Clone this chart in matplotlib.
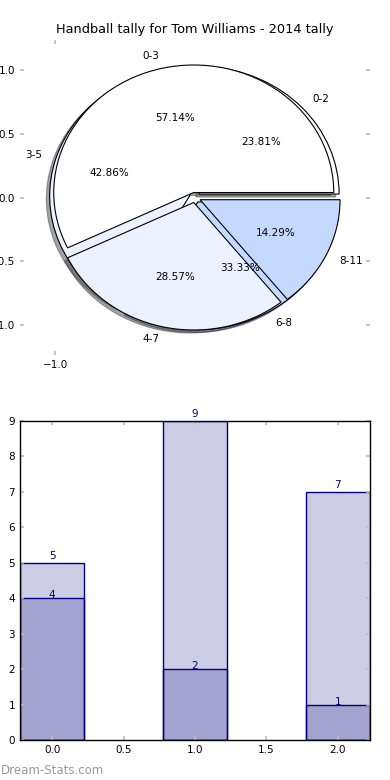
import matplotlib
matplotlib.use("Agg")
import matplotlib.pyplot as plt

# pie data (two pies drawn on top of each other)
labels_a = ['0-3', '4-7', '8-11']
values_a = [4, 2, 1]
labels_b = ['0-2', '3-5', '6-8']
values_b = [5, 9, 7]
pie_colors = ['#FFFFFF', '#EBF1FF', '#C5D9FF']

# bar data
bar_x = [0, 1, 2]
bar_total = [5, 9, 7]
bar_low = [4, 2, 1]

title = 'Handball tally for Tom Williams - 2014 tally'

fig = plt.figure(figsize=(3.9, 7.8), dpi=100)

# --- pie ---
ax1 = fig.add_axes([20 / 390, 1 - 355 / 780, 350 / 390, 315 / 780])
wp = {'edgecolor': 'black', 'linewidth': 0.8}
tp = {'fontsize': 7.5}
shad = {'ox': -0.017, 'oy': -0.017}
ax1.pie(values_b, labels=labels_b, colors=pie_colors, explode=[0.04] * 3,
        autopct='%.2f%%', shadow=shad, wedgeprops=wp, textprops=tp)
ax1.pie(values_a, labels=labels_a, colors=pie_colors, explode=[0.04] * 3,
        autopct='%.2f%%', shadow=shad, wedgeprops=wp, textprops=tp)
ax1.set_aspect('auto')
ax1.set_xlim(-1.25, 1.25)
ax1.set_ylim(-1.235, 1.235)
ax1.set_xticks([-1.0])
ax1.set_xticklabels(['\u22121.0'])
ax1.set_yticks([-1.0, -0.5, 0.0, 0.5, 1.0])
ax1.set_yticklabels(['\u22121.0', '\u22120.5', '0.0', '0.5', '1.0'])
ax1.set_frame_on(False)
ax1.tick_params(direction='in', top=True, right=True, length=3, width=1.2,
                color='#bbbbbb', labelsize=7.5)
ax1.set_title(title, fontsize=9.3, pad=5)

# --- bars ---
ax2 = fig.add_axes([20 / 390, 40 / 780, 350 / 390, 319 / 780])
ax2.bar(bar_x, bar_total, width=0.45, facecolor=(0, 0, 0.5, 0.2),
        edgecolor='navy', linewidth=1)
ax2.bar(bar_x, bar_low, width=0.45, facecolor=(0, 0, 0.5, 0.2),
        edgecolor='navy', linewidth=1)
for x, h in zip(bar_x, bar_total):
    ax2.annotate(str(h), (x, h), xytext=(0, 1.5), textcoords='offset points',
                 ha='center', va='bottom', color='navy', fontsize=7.5)
for x, h in zip(bar_x, bar_low):
    ax2.annotate(str(h), (x, h), xytext=(0, -1.5), textcoords='offset points',
                 ha='center', va='bottom', color='navy', fontsize=7.5)
ax2.set_xlim(-0.225, 2.225)
ax2.set_ylim(0, 9)
ax2.set_xticks([0.0, 0.5, 1.0, 1.5, 2.0])
ax2.set_yticks(range(10))
ax2.tick_params(direction='in', top=True, right=True, length=3, width=1.2,
                color='#bbbbbb', labelsize=7.5)
for s in ax2.spines.values():
    s.set_linewidth(1)

fig.text(0.002, 1 - 770 / 780, 'Dream-Stats.com', color='#999999',
         fontsize=8.5, va='center', ha='left')

fig.savefig('out.png', dpi=100)
